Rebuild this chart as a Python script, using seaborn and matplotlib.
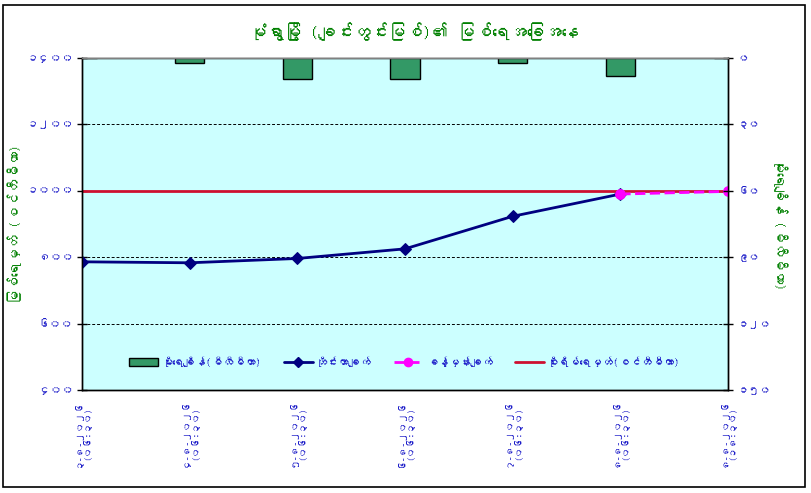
import numpy as np
import pandas as pd
import seaborn as sns
import matplotlib
matplotlib.use('Agg')
import matplotlib.pyplot as plt
from matplotlib import font_manager
from matplotlib.ft2font import FT2Font
from matplotlib.lines import Line2D
from matplotlib.patches import Patch, Rectangle

# data
dates = ['၃-၈-၂၀၂၆\n(၀၆:၃၀)', '၄-၈-၂၀၂၆\n(၀၆:၃၀)', '၅-၈-၂၀၂၆\n(၀၆:၃၀)',
         '၆-၈-၂၀၂၆\n(၀၆:၃၀)', '၇-၈-၂၀၂၆\n(၀၆:၃၀)', '၈-၈-၂၀၂၆\n(၀၆:၃၀)',
         '၈-၈-၂၀၂၆\n(၁၈:၃၀)']
rainfall = [0, 2.3, 9.5, 9.5, 2.3, 8.1, 0]
observed = [786, 783, 796, 825, 923, 990]
forecast_pos = [5, 6]
forecast = [990, 998]
danger_level = 1000

left_ticks = [400, 600, 800, 1000, 1200, 1400]
left_labels = ['၄၀၀', '၆၀၀', '၈၀၀', '၁၀၀၀', '၁၂၀၀', '၁၄၀၀']
right_ticks = [0, 30, 60, 90, 120, 150]
right_labels = ['၀', '၃၀', '၆၀', '၉၀', '၁၂၀', '၁၅၀']

title = 'မုံရွာမြို့ (ချင်းတွင်းမြစ်)၏ မြစ်ရေအခြေအနေ'
ylabel_left = 'မြစ်ရေမှတ် (စင်တီမီတာ)'
ylabel_right = 'မိုးရေချိန် (မီလီမီတာ)'
legend_labels = ['မိုးရေချိန်(မီလီမီတာ)', 'တိုင်းတာချက်', 'ခန့်မှန်းချက်', 'စိုးရိမ်ရေမှတ်(စင်တီမီတာ)']


def find_myanmar_font():
    for f in font_manager.fontManager.ttflist:
        try:
            if 0x1019 in FT2Font(f.fname).get_charmap():
                return f.name
        except Exception:
            pass
    return None


sns.set_style('white')
mm_font = find_myanmar_font()
plt.rcParams['font.family'] = [mm_font, 'DejaVu Sans'] if mm_font else ['DejaVu Sans']

blue = '#1A1AC8'
green = '#008000'

fig = plt.figure(figsize=(8.12, 4.93), dpi=100)
ax = fig.add_axes([0.101, 0.209, 0.7956, 0.6735])
ax.set_facecolor('#CCFFFF')

idx = np.arange(len(dates))

# grid lines
for t in [600, 800, 1200]:
    ax.axhline(t, color='black', lw=0.7, ls=(0, (3, 2)), zorder=1)

# danger level
ax.axhline(danger_level, color='#CC1030', lw=2, zorder=2)

df_obs = pd.DataFrame({'x': idx[:len(observed)], 'y': observed})
sns.lineplot(data=df_obs, x='x', y='y', ax=ax, color='#000080', lw=2,
             marker='D', markersize=6, markeredgecolor='#000080', zorder=4)
df_fc = pd.DataFrame({'x': forecast_pos, 'y': forecast})
sns.lineplot(data=df_fc, x='x', y='y', ax=ax, color='#FF00FF', lw=2,
             linestyle='--', marker='o', markersize=7, markeredgecolor='#FF00FF', zorder=5)

ax.set_ylim(400, 1400)
ax.set_yticks(left_ticks)
ax.set_yticklabels(left_labels, color=blue, fontsize=8.5, fontweight='bold')
ax.set_ylabel(ylabel_left, color=green, fontsize=10, fontweight='bold')
ax.yaxis.set_label_coords(-0.092, 0.5)
ax.set_xlabel('')

# rainfall bars on secondary axis
ax2 = ax.twinx()
df_rain = pd.DataFrame({'x': idx, 'r': rainfall})
sns.barplot(data=df_rain, x='x', y='r', ax=ax2, color='#339966', saturation=1,
            width=0.27, edgecolor='black', linewidth=1)
ax2.set_ylim(150, 0)
ax2.set_yticks(right_ticks)
ax2.set_yticklabels(right_labels, color=blue, fontsize=8, fontweight='bold')
ax2.set_ylabel(ylabel_right, color=green, fontsize=10, fontweight='bold', rotation=270)
ax2.yaxis.set_label_coords(1.092, 0.5)
ax2.set_xlabel('')

ax.set_xlim(0, len(dates) - 1)
ax2.set_xlim(0, len(dates) - 1)
ax.set_xticks(idx)
ax.set_xticklabels(dates, rotation=90, color=blue, fontsize=7, fontweight='bold',
                   va='top', ha='center', linespacing=1.0)

for a in (ax, ax2):
    for s in a.spines.values():
        s.set_color('black')
        s.set_linewidth(1)
ax2.spines['top'].set_color('#808080')
ax.tick_params(axis='both', direction='inout', length=7, width=1, colors='black', pad=3)
ax2.tick_params(axis='y', direction='inout', length=7, width=1, colors='black', pad=3)
for lab in ax.get_yticklabels() + ax.get_xticklabels() + ax2.get_yticklabels():
    lab.set_color(blue)

handles = [Patch(facecolor='#339966', edgecolor='black'),
           Line2D([], [], color='#000080', lw=2, marker='D', markersize=5),
           Line2D([], [], color='#FF00FF', lw=2, ls='--', marker='o', markersize=6),
           Line2D([], [], color='#CC1030', lw=2)]
leg = ax2.legend(handles, legend_labels, loc='lower center', bbox_to_anchor=(0.5, 0.04),
                 ncol=4, frameon=False, handlelength=2.6, columnspacing=2.0,
                 handletextpad=0.3, prop={'size': 8, 'weight': 'bold'})
for t in leg.get_texts():
    t.set_color(blue)

fig.text(0.51, 0.935, title, ha='center', va='center', color=green,
         fontsize=12.5, fontweight='bold')

fig.add_artist(Rectangle((0.004, 0.012), 0.987, 0.978, transform=fig.transFigure,
                         fill=False, edgecolor='black', lw=1.2))

fig.savefig('out.png', dpi=100)
